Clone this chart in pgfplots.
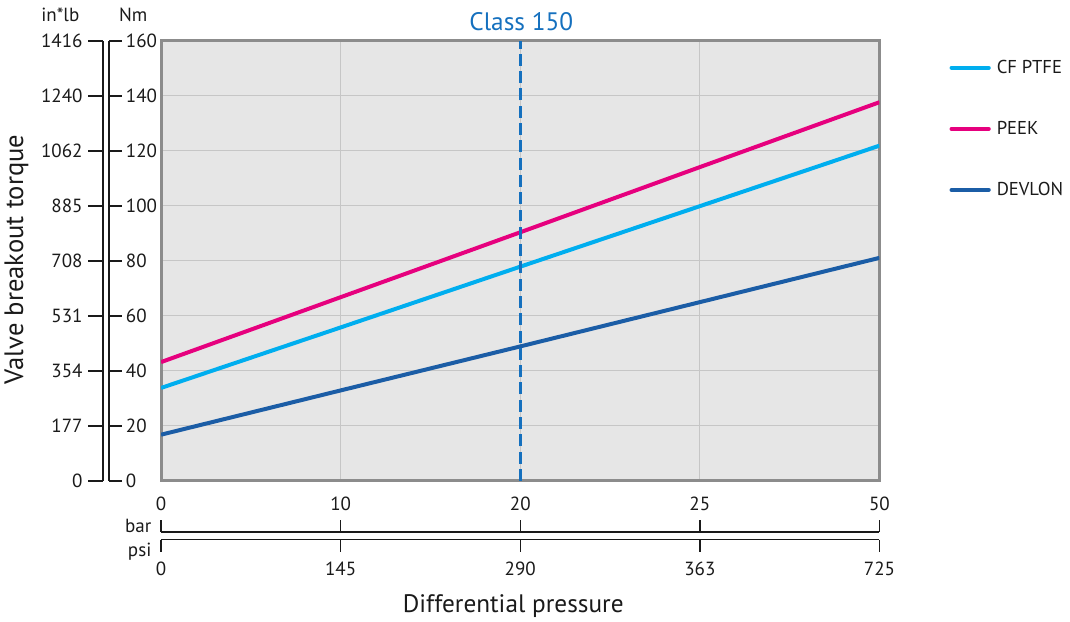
\documentclass[border=0pt]{standalone}
\usepackage{fontspec}
\setmainfont{PT Sans}
\usepackage{pgfplots}
\pgfplotsset{compat=1.18}
\definecolor{cfptfe}{HTML}{00AEEF}
\definecolor{peek}{HTML}{E6007E}
\definecolor{devlon}{HTML}{1B5DA6}
\definecolor{classblue}{HTML}{1570BE}
\definecolor{bgray}{HTML}{E6E6E6}
\definecolor{framegray}{HTML}{8C8C8C}
\definecolor{gridgray}{HTML}{C6C6C6}
\definecolor{txt}{HTML}{1A1A1A}
\begin{document}
\begin{tikzpicture}
\begin{axis}[
  at={(0,0)}, anchor=south west, scale only axis,
  width=540pt, height=330.75pt,
  xmin=0, xmax=4, ymin=0, ymax=160,
  xtick={0,1,2,3,4}, ytick={0,20,...,160},
  xticklabels={}, yticklabels={},
  major tick length=0pt,
  grid=major, grid style={gridgray, line width=0.75pt},
  axis background/.style={fill=bgray},
  axis line style={framegray, line width=2.25pt},
  legend style={at={(axis description cs:1.0972,0.963)}, anchor=north west,
    draw=none, fill=none, font=\fontsize{14}{16}\selectfont, text=txt,
    row sep=30.5pt, inner sep=0pt, nodes={inner xsep=4.5pt}},
  legend cell align=left,
  legend image code/.code={\draw[line width=3pt, line cap=round] (0pt,0pt) -- (28pt,0pt);},
]
\addplot[cfptfe, line width=3pt] coordinates {(0,33.8) (1,55.8) (2,77.9) (3,99.9) (4,121.9)};
\addlegendentry{CF PTFE}
\addplot[peek, line width=3pt] coordinates {(0,43.2) (1,66.8) (2,90.4) (3,114.1) (4,137.7)};
\addlegendentry{PEEK}
\addplot[devlon, line width=3pt] coordinates {(0,16.8) (1,32.9) (2,48.9) (3,65.0) (4,81.1)};
\addlegendentry{DEVLON}
\addplot[classblue, line width=2.25pt, dash pattern=on 9pt off 4pt, forget plot] coordinates {(2,0) (2,160)};
\end{axis}
\begin{scope}[x=0.75pt, y=-0.75pt, shift={(-159,-482)}, txt, line width=1.1pt]
  \path (0,0) rectangle (1070,623);
  % left scales
  \draw (101,482) -- (101,41);
  \draw (107,482) -- (107,41);
  \foreach \k/\a/\b in {0/0/0,1/177/20,2/354/40,3/531/60,4/708/80,5/885/100,6/1062/120,7/1240/140,8/1416/160} {
    \pgfmathsetmacro\yy{482-55.125*\k}
    \draw (86,\yy) -- (101,\yy);
    \draw (107,\yy) -- (120,\yy);
    \node[anchor=east, inner sep=0pt, font=\fontsize{14.3}{16}\selectfont] at (81,\yy) {\a};
    \node[anchor=west, inner sep=0pt, font=\fontsize{14.3}{16}\selectfont] at (123,\yy) {\b};
  }
  \node[font=\fontsize{14.3}{16}\selectfont] at (58,15) {in*lb};
  \node[font=\fontsize{14.3}{16}\selectfont] at (131,15) {Nm};
  % bottom scales
  \draw (159,533) -- (879,533);
  \draw (159,541) -- (879,541);
  \foreach \k/\a/\b in {0/0/0,1/10/145,2/20/290,3/25/363,4/50/725} {
    \pgfmathsetmacro\xx{159+180*\k}
    \draw (\xx,533) -- (\xx,521);
    \draw (\xx,541) -- (\xx,553);
    \node[inner sep=0pt, font=\fontsize{14.3}{16}\selectfont] at (\xx,505) {\a};
    \node[inner sep=0pt, font=\fontsize{14.3}{16}\selectfont] at (\xx,570) {\b};
  }
  \node[anchor=east, inner sep=0pt, font=\fontsize{14.3}{16}\selectfont] at (150,527) {bar};
  \node[anchor=east, inner sep=0pt, font=\fontsize{14.3}{16}\selectfont] at (150,553) {psi};
  \node[font=\fontsize{19}{22}\selectfont] at (512,607) {Differential pressure};
  \node[rotate=90, font=\fontsize{20}{23}\selectfont] at (14,260) {Valve breakout torque};
  \node[classblue, font=\fontsize{19}{22}\selectfont] at (520,22) {Class 150};
\end{scope}
\end{tikzpicture}
\end{document}
